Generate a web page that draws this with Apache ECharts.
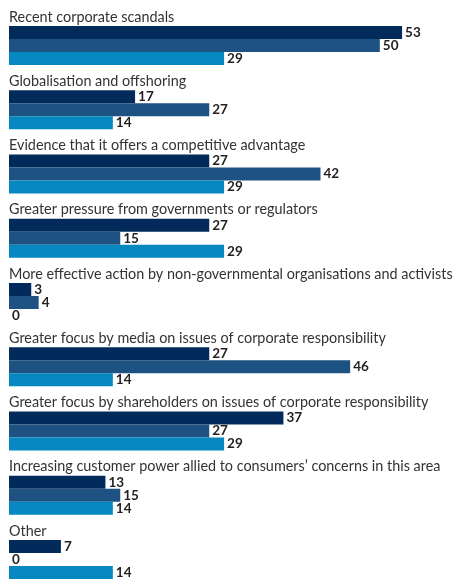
<!DOCTYPE html>
<html>
<head>
<meta charset="utf-8">
<script src="https://cdn.jsdelivr.net/npm/echarts@6/dist/echarts.min.js"></script>
<style>
  html, body { margin: 0; padding: 0; background: #ffffff; overflow: hidden; }
  /* the last bar group runs to the bottom edge, so the canvas extends a little below the view */
  #chart { width: 456px; height: 600px; }
</style>
</head>
<body>
<div id="chart"></div>
<script>
// Reasons cited, three survey groups per reason (percent of respondents)
const categories = [
  'Recent corporate scandals',
  'Globalisation and offshoring',
  'Evidence that it offers a competitive advantage',
  'Greater pressure from governments or regulators',
  'More effective action by non-governmental organisations and activists',
  'Greater focus by media on issues of corporate responsibility',
  'Greater focus by shareholders on issues of corporate responsibility',
  'Increasing customer power allied to consumers\u2019 concerns in this area',
  'Other'
];
const seriesA = [53, 17, 27, 27, 3, 27, 37, 13, 7];
const seriesB = [50, 27, 42, 15, 4, 46, 27, 15, 0];
const seriesC = [29, 14, 29, 29, 0, 14, 29, 14, 14];

const colors = ['#022b5c', '#1d5282', '#0587c0'];
const textFont = 'Lato';

function barSeries(name, data, color) {
  return {
    name: name,
    type: 'bar',
    data: data,
    barWidth: 13,
    barGap: '0%',
    itemStyle: { color: color },
    label: {
      show: true,
      position: 'right',
      distance: 3,
      color: '#231f20',
      fontFamily: textFont,
      fontWeight: 'bold',
      fontSize: 13.5
    },
    silent: true
  };
}

const chart = echarts.init(document.getElementById('chart'), null, { renderer: 'canvas' });
chart.setOption({
  animation: false,
  grid: { left: 9, width: 445, top: 13.5, height: 578, containLabel: false },
  xAxis: {
    type: 'value',
    min: 0,
    max: 60,
    show: false
  },
  yAxis: {
    type: 'category',
    data: categories,
    inverse: true,
    axisLine: { show: false },
    axisTick: { show: false },
    splitLine: { show: false },
    axisLabel: {
      inside: true,
      margin: 0,
      interval: 0,
      showMinLabel: true,
      showMaxLabel: true,
      hideOverlap: false,
      align: 'left',
      verticalAlign: 'middle',
      // heading line sits above the bar group: a tall empty second line lifts it
      formatter: function (v) { return '{t|' + v + '}\n{s| }'; },
      rich: {
        t: { color: '#333333', fontFamily: textFont, fontSize: 14.4, lineHeight: 18 },
        s: { fontSize: 10, lineHeight: 57, height: 57 }
      }
    }
  },
  series: [
    barSeries('A', seriesA, colors[0]),
    barSeries('B', seriesB, colors[1]),
    barSeries('C', seriesC, colors[2])
  ]
});
</script>
</body>
</html>
